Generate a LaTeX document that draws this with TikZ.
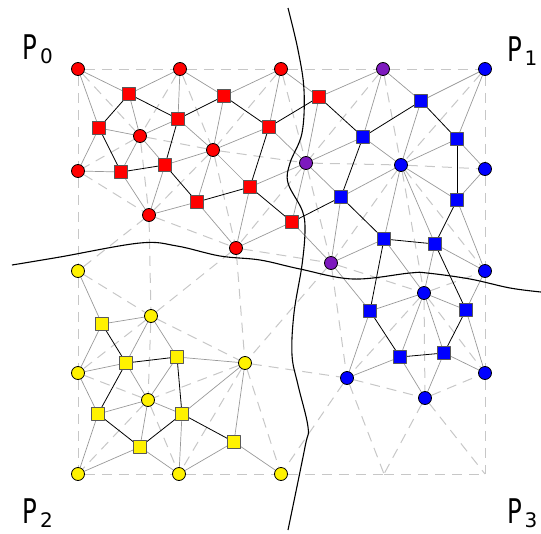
\documentclass[tikz,border=0pt]{standalone}
\usepackage{fontspec}
\setmainfont{DejaVu Sans}
\usetikzlibrary{backgrounds}
\definecolor{shared}{RGB}{125,25,190}
\newcommand{\plab}[1]{\scalebox{0.72}[1]{P}\hspace{2.7pt}\raisebox{-4pt}{\fontsize{20}{20}\selectfont #1}}

\begin{document}
\begin{tikzpicture}[x=1pt, y=-1pt, line cap=round, line join=round,
    vtx/.style={circle, draw=black, line width=0.8pt, minimum size=13pt, inner sep=0pt},
    elem/.style={rectangle, draw=black!65, line width=0.6pt, minimum size=12.5pt, inner sep=0pt},
    mesh/.style={draw=black!22, line width=1pt, line cap=butt, dash pattern=on 10pt off 7pt},
    tie/.style={draw=black!40, line width=0.7pt},
    dual/.style={draw=black, line width=0.8pt},
    cut/.style={draw=black, line width=1.1pt},
    plabel/.style={anchor=base west, inner sep=0pt, font=\fontsize{34}{38}\selectfont}]
  \useasboundingbox (0,0) rectangle (541,533);

  % mesh vertices
  \foreach \n/\x/\y in {r1/78/69, r2/180/69, r3/281/69, r4/140/136, r5/213/150,
      r6/78/171, r7/149/215, r8/236/248}
    \node[vtx, fill=red] (\n) at (\x,\y) {};
  \foreach \n/\x/\y in {v1/383/69, v2/306/163, v3/331/263}
    \node[vtx, fill=shared] (\n) at (\x,\y) {};   % shared by P0 and P1
  \foreach \n/\x/\y in {b1/485/69, b2/401/165, b3/485/169, b4/485/271, b5/424/293,
      b6/347/378, b7/485/373, b8/425/398}
    \node[vtx, fill=blue] (\n) at (\x,\y) {};
  \foreach \n/\x/\y in {y1/78/271, y2/151/316, y3/78/373, y4/245/363, y5/148/400,
      y6/78/474, y7/179/474, y8/281/474}
    \node[vtx, fill=yellow] (\n) at (\x,\y) {};
  \coordinate (h1) at (384,474);                 % not drawn
  \coordinate (h2) at (485,474);

  % elements
  \foreach \n/\x/\y in {er1/129/94, er2/224/96, er3/319/97, er4/99/128, er5/178/119,
      er6/269/127, er7/121/172, er8/165/165, er9/250/187, er10/197/202, er11/292/222}
    \node[elem, fill=red] (\n) at (\x,\y) {};
  \foreach \n/\x/\y in {eb1/421/101, eb2/363/137, eb3/457/139, eb4/341/197, eb5/457/200,
      eb6/384/239, eb7/435/244, eb8/466/310, eb9/370/311, eb10/400/357, eb11/444/353}
    \node[elem, fill=blue] (\n) at (\x,\y) {};
  \foreach \n/\x/\y in {ey1/102/324, ey2/126/363, ey3/177/357, ey4/98/414, ey5/182/414,
      ey6/140/447, ey7/234/442}
    \node[elem, fill=yellow] (\n) at (\x,\y) {};

  \begin{scope}[on background layer]
    % triangle edges
    \foreach \a/\b in {r1/r2, r2/r4, r1/r4, r2/r3, r3/r5, r2/r5, r3/v1, v1/v2, r3/v2,
        r1/r6, r4/r6, r4/r5, r5/v2, r6/r7, r4/r7, r5/r7, v2/r8, r5/r8, r7/r8, r8/v3,
        v2/v3, v1/b1, b1/b2, v1/b2, v2/b2, b2/b3, b1/b3, b2/v3, b3/b4, b2/b4, v3/b5,
        b2/b5, b5/b4, b4/b7, b5/b7, v3/b6, b5/b6, b6/b8, b5/b8, b8/b7,
        y1/y2, y2/y3, y1/y3, y3/y5, y2/y5, y2/y4, y4/y5, y3/y6, y5/y6, y4/y7, y5/y7,
        y6/y7, y7/y8, y4/y8,
        r6/y1, y1/r7, r7/y2, r8/y2, r8/y4, v3/y4, y4/b6, b6/y8, b6/h1, y8/h1, b8/h1,
        b8/h2, h1/h2, b7/h2}
      \draw[mesh] (\a) -- (\b);
    % element to its vertices
    \foreach \e/\a/\b/\c in {er1/r1/r2/r4, er2/r2/r3/r5, er3/r3/v1/v2, er4/r1/r4/r6,
        er5/r2/r4/r5, er6/r3/r5/v2, er7/r4/r6/r7, er8/r4/r5/r7, er9/r5/v2/r8,
        er10/r5/r7/r8, er11/v2/r8/v3,
        eb1/v1/b1/b2, eb2/v1/v2/b2, eb3/b1/b2/b3, eb4/v2/b2/v3, eb5/b2/b3/b4,
        eb6/b2/v3/b5, eb7/b2/b5/b4, eb8/b5/b4/b7, eb9/v3/b5/b6, eb10/b5/b6/b8,
        eb11/b5/b8/b7,
        ey1/y1/y2/y3, ey2/y2/y3/y5, ey3/y2/y4/y5, ey4/y3/y5/y6, ey5/y4/y5/y7,
        ey6/y5/y6/y7, ey7/y4/y7/y8}
      \draw[tie] (\e) -- (\a) (\e) -- (\b) (\e) -- (\c);
    % neighbouring elements
    \foreach \a/\b in {er1/er4, er1/er5, er2/er5, er2/er6, er3/er6, er3/eb2, er4/er7,
        er5/er8, er7/er8, er8/er10, er10/er9, er9/er6, er9/er11, er11/eb4, eb4/eb2,
        eb2/eb1, eb1/eb3, eb3/eb5, eb5/eb7, eb4/eb6, eb6/eb7, eb6/eb9, eb7/eb8,
        eb8/eb11, eb9/eb10, eb10/eb11,
        ey1/ey2, ey2/ey3, ey2/ey4, ey4/ey6, ey6/ey5, ey3/ey5, ey5/ey7}
      \draw[dual] (\a) -- (\b);
    % partition boundaries
    \draw[cut] plot[smooth, tension=0.6] coordinates {(12,265) (60,257) (140,243)
      (177,246) (220,256) (260,260) (300,269) (353,279) (410,273) (427,273) (470,279)
      (510,288) (541,292)};
    \draw[cut] plot[smooth, tension=0.6] coordinates {(288,8) (298,50) (304,90)
      (302,133) (290,163) (288,183) (302,210) (305,230) (302,265) (294,313) (292,355)
      (298,385) (308,427) (305,447) (288,530)};
  \end{scope}

  \node[plabel] (p0) at (22.5,59) {\plab{0}};
  \node[plabel] (p1) at (507,61) {\plab{1}};
  \node[plabel] (p2) at (22.5,523) {\plab{2}};
  \node[plabel] (p3) at (507,523) {\plab{3}};
\end{tikzpicture}
\end{document}
